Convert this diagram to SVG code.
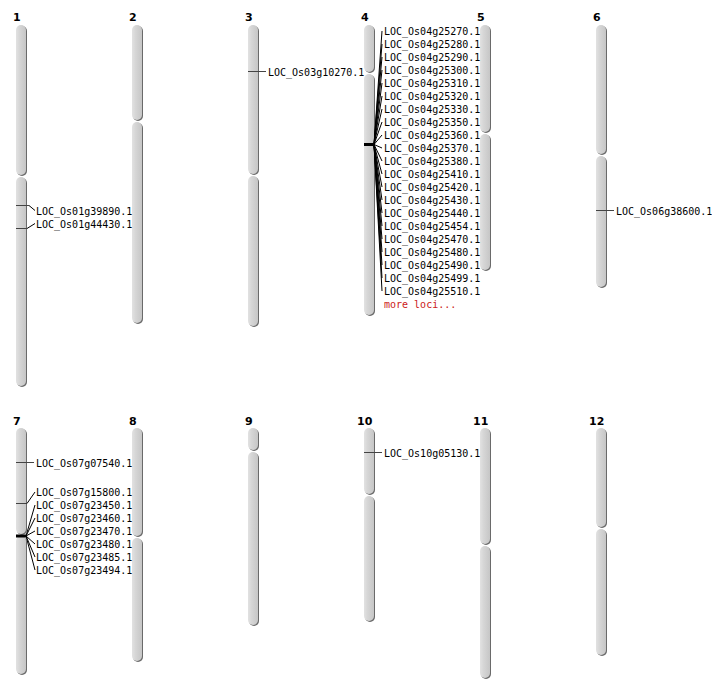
<svg xmlns="http://www.w3.org/2000/svg" width="712" height="700" viewBox="0 0 712 700">
<defs>
<linearGradient id="g" x1="0" y1="0" x2="1" y2="0">
<stop offset="0" stop-color="#e2e2e2"/>
<stop offset="0.35" stop-color="#d6d6d6"/>
<stop offset="1" stop-color="#c6c6c6"/>
</linearGradient>
</defs>
<style>
.arm{fill:url(#g)}
.sh{fill:#6a6a6a}
.num{font-family:"DejaVu Sans",sans-serif;font-weight:bold;font-size:11px;fill:#000}
.lab{font-family:"DejaVu Sans Mono","Liberation Mono",monospace;font-size:10px;fill:#000}
.more{fill:#cc2020}
.mk{stroke:#444;stroke-width:1;fill:none}
.mkb{stroke:#000;stroke-width:3;fill:none}
.ld{stroke:#000;stroke-width:1;fill:none}
</style>
<rect width="712" height="700" fill="#fff"/>

<g id="chr1"><text class="num" x="13" y="21">1</text>
<rect class="sh" x="17" y="26" width="10" height="150" rx="5"/><rect class="arm" x="16" y="25" width="10" height="150" rx="5"/>
<rect class="sh" x="17" y="178" width="10" height="209" rx="5"/><rect class="arm" x="16" y="177" width="10" height="209" rx="5"/></g>
<g id="chr2"><text class="num" x="129" y="21">2</text>
<rect class="sh" x="133" y="26" width="10" height="95" rx="5"/><rect class="arm" x="132" y="25" width="10" height="95" rx="5"/>
<rect class="sh" x="133" y="123" width="10" height="201" rx="5"/><rect class="arm" x="132" y="122" width="10" height="201" rx="5"/></g>
<g id="chr3"><text class="num" x="245" y="21">3</text>
<rect class="sh" x="249" y="26" width="10" height="149" rx="5"/><rect class="arm" x="248" y="25" width="10" height="149" rx="5"/>
<rect class="sh" x="249" y="177" width="10" height="150" rx="5"/><rect class="arm" x="248" y="176" width="10" height="150" rx="5"/></g>
<g id="chr4"><text class="num" x="361" y="21">4</text>
<rect class="sh" x="365" y="26" width="10" height="47" rx="5"/><rect class="arm" x="364" y="25" width="10" height="47" rx="5"/>
<rect class="sh" x="365" y="75" width="10" height="241" rx="5"/><rect class="arm" x="364" y="74" width="10" height="241" rx="5"/></g>
<g id="chr5"><text class="num" x="477" y="21">5</text>
<rect class="sh" x="481" y="26" width="10" height="107" rx="5"/><rect class="arm" x="480" y="25" width="10" height="107" rx="5"/>
<rect class="sh" x="481" y="135" width="10" height="136" rx="5"/><rect class="arm" x="480" y="134" width="10" height="136" rx="5"/></g>
<g id="chr6"><text class="num" x="593" y="21">6</text>
<rect class="sh" x="597" y="26" width="10" height="129" rx="5"/><rect class="arm" x="596" y="25" width="10" height="129" rx="5"/>
<rect class="sh" x="597" y="157" width="10" height="131" rx="5"/><rect class="arm" x="596" y="156" width="10" height="131" rx="5"/></g>

<g id="chr7"><text class="num" x="13" y="425">7</text>
<rect class="sh" x="17" y="429" width="10" height="106" rx="5"/><rect class="arm" x="16" y="428" width="10" height="106" rx="5"/>
<rect class="sh" x="17" y="537" width="10" height="138" rx="5"/><rect class="arm" x="16" y="536" width="10" height="138" rx="5"/></g>
<g id="chr8"><text class="num" x="129" y="425">8</text>
<rect class="sh" x="133" y="429" width="10" height="108" rx="5"/><rect class="arm" x="132" y="428" width="10" height="108" rx="5"/>
<rect class="sh" x="133" y="539" width="10" height="123" rx="5"/><rect class="arm" x="132" y="538" width="10" height="123" rx="5"/></g>
<g id="chr9"><text class="num" x="245" y="425">9</text>
<rect class="sh" x="249" y="429" width="10" height="22" rx="5"/><rect class="arm" x="248" y="428" width="10" height="22" rx="5"/>
<rect class="sh" x="249" y="453" width="10" height="173" rx="5"/><rect class="arm" x="248" y="452" width="10" height="173" rx="5"/></g>
<g id="chr10"><text class="num" x="357" y="425">10</text>
<rect class="sh" x="365" y="429" width="10" height="66" rx="5"/><rect class="arm" x="364" y="428" width="10" height="66" rx="5"/>
<rect class="sh" x="365" y="497" width="10" height="125" rx="5"/><rect class="arm" x="364" y="496" width="10" height="125" rx="5"/></g>
<g id="chr11"><text class="num" x="473" y="425">11</text>
<rect class="sh" x="481" y="429" width="10" height="116" rx="5"/><rect class="arm" x="480" y="428" width="10" height="116" rx="5"/>
<rect class="sh" x="481" y="547" width="10" height="132" rx="5"/><rect class="arm" x="480" y="546" width="10" height="132" rx="5"/></g>
<g id="chr12"><text class="num" x="589" y="425">12</text>
<rect class="sh" x="597" y="429" width="10" height="99" rx="5"/><rect class="arm" x="596" y="428" width="10" height="99" rx="5"/>
<rect class="sh" x="597" y="530" width="10" height="126" rx="5"/><rect class="arm" x="596" y="529" width="10" height="126" rx="5"/></g>

<g id="connectors">
<path class="mk" d="M16 205.5H29"/><path class="ld" d="M29 205.5L35 210.5"/>
<path class="mk" d="M16 228.5H27"/><path class="ld" d="M27 228.5L35 223.5"/>
<path class="mk" d="M248 71.5H266"/>
<path class="mk" d="M596 210.5H614"/>
<path class="mk" d="M364 452.5H382"/>
<path class="mk" d="M16 462.5H34"/>
<path class="mk" d="M16 503.5H27"/><path class="ld" d="M27 503.5L35 492"/>
<path class="mkb" d="M16 536H26"/>
<path class="ld" d="M26 536L35 505M26 536L35 518M26 536L35 531M26 536L35 544M26 536L35 557M26 536L35 570"/>
<path class="mkb" d="M364 144.5H374"/>
<path class="ld" d="M374 144.5L382 31M374 144.5L382 44M374 144.5L382 57M374 144.5L382 70M374 144.5L382 83M374 144.5L382 96M374 144.5L382 109M374 144.5L382 122M374 144.5L382 135M374 144.5L382 148M374 144.5L382 161M374 144.5L382 174M374 144.5L382 187M374 144.5L382 200M374 144.5L382 213M374 144.5L382 226M374 144.5L382 239M374 144.5L382 252M374 144.5L382 265M374 144.5L382 278M374 144.5L382 291"/>
</g>

<g id="genes1" class="lab"><text x="36" y="215">LOC_Os01g39890.1</text><text x="36" y="228">LOC_Os01g44430.1</text></g>
<g id="genes3" class="lab"><text x="268" y="76">LOC_Os03g10270.1</text></g>
<g id="genes4" class="lab">
<text x="384" y="35">LOC_Os04g25270.1</text>
<text x="384" y="48">LOC_Os04g25280.1</text>
<text x="384" y="61">LOC_Os04g25290.1</text>
<text x="384" y="74">LOC_Os04g25300.1</text>
<text x="384" y="87">LOC_Os04g25310.1</text>
<text x="384" y="100">LOC_Os04g25320.1</text>
<text x="384" y="113">LOC_Os04g25330.1</text>
<text x="384" y="126">LOC_Os04g25350.1</text>
<text x="384" y="139">LOC_Os04g25360.1</text>
<text x="384" y="152">LOC_Os04g25370.1</text>
<text x="384" y="165">LOC_Os04g25380.1</text>
<text x="384" y="178">LOC_Os04g25410.1</text>
<text x="384" y="191">LOC_Os04g25420.1</text>
<text x="384" y="204">LOC_Os04g25430.1</text>
<text x="384" y="217">LOC_Os04g25440.1</text>
<text x="384" y="230">LOC_Os04g25454.1</text>
<text x="384" y="243">LOC_Os04g25470.1</text>
<text x="384" y="256">LOC_Os04g25480.1</text>
<text x="384" y="269">LOC_Os04g25490.1</text>
<text x="384" y="282">LOC_Os04g25499.1</text>
<text x="384" y="295">LOC_Os04g25510.1</text>
<text x="384" y="308" class="more">more loci...</text>
</g>
<g id="genes6" class="lab"><text x="616" y="215">LOC_Os06g38600.1</text></g>
<g id="genes7" class="lab">
<text x="36" y="467">LOC_Os07g07540.1</text>
<text x="36" y="496">LOC_Os07g15800.1</text>
<text x="36" y="509">LOC_Os07g23450.1</text>
<text x="36" y="522">LOC_Os07g23460.1</text>
<text x="36" y="535">LOC_Os07g23470.1</text>
<text x="36" y="548">LOC_Os07g23480.1</text>
<text x="36" y="561">LOC_Os07g23485.1</text>
<text x="36" y="574">LOC_Os07g23494.1</text>
</g>
<g id="genes10" class="lab"><text x="384" y="457">LOC_Os10g05130.1</text></g>
</svg>
